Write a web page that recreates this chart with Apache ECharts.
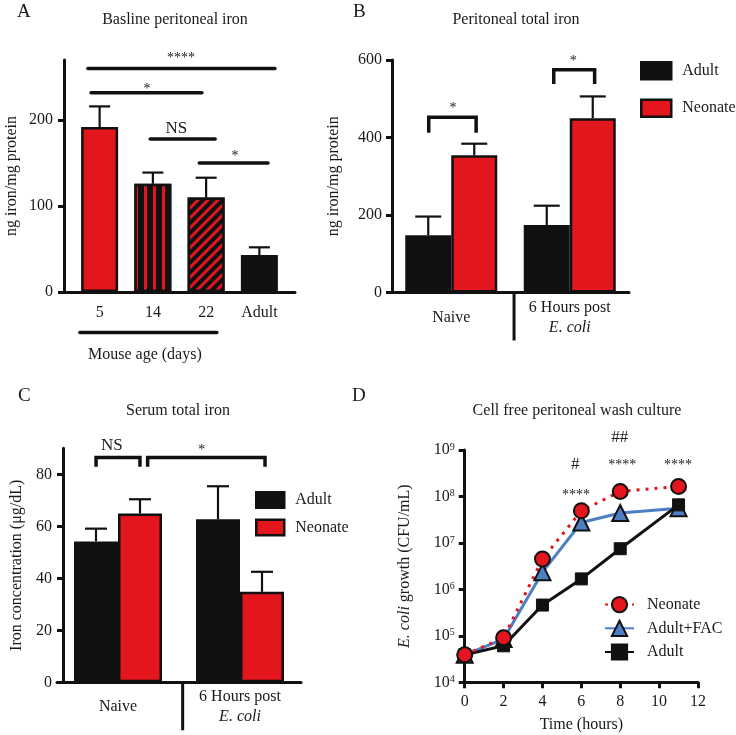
<!DOCTYPE html>
<html><head><meta charset="utf-8">
<script src="https://cdn.jsdelivr.net/npm/echarts@6/dist/echarts.min.js"></script>
<style>html,body{margin:0;padding:0;background:#fff}#c{width:736px;height:735px}</style>
</head><body><div id="c"></div><script>
// ---------------- DATA ----------------
// Panel A
const ageCategories = ['5', '14', '22', 'Adult'];
const baselineIron = [192, 126, 110, 43];
const baselineIronUpper = [216, 139, 133, 52];
// significance lines: [x1, x2, yLine, textX, textY] (category units), labels separate
const sigALines = [[-0.22, 3.29, 260, 1.53, 272], [-0.16, 1.92, 232, 0.89, 236], [0.95, 2.17, 178, 1.44, 190], [1.87, 3.16, 150, 2.54, 158]];
const sigALabels = ['****', '*', 'NS', '*'];
const ageGroupLine = [[-0.37, 2.2, -47, 0.85, -73]];
const ageGroupLabel = ['Mouse age (days)'];

// Panel B
const groupCategories = ['Naive', '6 Hours post E. coli'];
const periAdult = [148, 174];
const periAdultUpper = [196, 224];
const periNeonate = [354, 450];
const periNeonateUpper = [384, 506];
// brackets: [x1, x2, yTop, yLeg, textX, textY]
const sigBBrackets = [[-0.19, 0.21, 452, 412, 0.015, 474], [0.865, 1.21, 575, 538, 1.03, 596]];
const sigBLabels = ['*', '*'];

// Panel C
const serumAdult = [54.2, 62.7];
const serumAdultUpper = [59.1, 75.4];
const serumNeonate = [64.9, 34.8];
const serumNeonateUpper = [70.4, 42.5];
const sigCBrackets = [[-0.18, 0.18, 86.5, 82.9, -0.05, 90.9], [0.243, 1.205, 86.5, 82.9, 0.686, 89.3]];
const sigCLabels = ['NS', '*'];

// Panel D
const timeHours = [0, 2, 4, 6, 8, 11];
const growthNeonate = [3.9e4, 9.1e4, 4.5e6, 4.9e7, 1.28e8, 1.64e8];
const growthAdultFAC = [3.9e4, 8.5e4, 2.35e6, 2.75e7, 4.4e7, 5.6e7];
const growthAdult = [3.9e4, 6.1e4, 4.6e5, 1.68e6, 7.5e6, 6.6e7];
const sigDPoints = [[5.73, 1.04e8], [5.69, 4.75e8], [8.1, 4.6e8], [7.97, 1.84e9], [10.97, 4.6e8]];
const sigDLabels = ['****', '#', '****', '##', '****'];

// ---------------- STYLE ----------------
const FONT = "'Liberation Serif', 'DejaVu Serif', serif";
const RED = '#e3151d', BLK = '#111111', BLUE = '#4d7fc4', TXT = '#1a1a1a';
const AXW = 3;

function textStyle(size) { return { fontFamily: FONT, fontSize: size || 16, color: TXT, fontWeight: 'normal' }; }

const styleA = [
  { color: RED, borderColor: BLK, borderWidth: 2.5 },
  { color: BLK, borderColor: BLK, borderWidth: 2.5, decal: { symbol: 'rect', symbolSize: 1, color: RED, dashArrayX: [3, 5.7], dashArrayY: [1, 0] } },
  { color: BLK, borderColor: BLK, borderWidth: 2.5, decal: { symbol: 'rect', symbolSize: 1, color: RED, dashArrayX: [2.6, 3.8], dashArrayY: [1, 0], rotation: Math.PI / 4 } },
  { color: BLK, borderColor: BLK, borderWidth: 2.5 }
];

function errRender(offsetPx, capHalf) {
  return function (params, api) {
    const c = api.coord([api.value(0), api.value(1)]);
    const e = api.coord([api.value(0), api.value(2)]);
    const x = c[0] + offsetPx * (api.value(3) || 0);
    return { type: 'group', children: [
      { type: 'line', shape: { x1: x, y1: c[1], x2: x, y2: e[1] }, style: { stroke: BLK, lineWidth: 2.2 } },
      { type: 'line', shape: { x1: x - capHalf, y1: e[1], x2: x + capHalf, y2: e[1] }, style: { stroke: BLK, lineWidth: 2.2 } }
    ] };
  };
}
function sigLineRender(labels, size) {
  return function (params, api) {
    const p1 = api.coord([api.value(0), api.value(2)]);
    const p2 = api.coord([api.value(1), api.value(2)]);
    const t = api.coord([api.value(3), api.value(4)]);
    return { type: 'group', children: [
      { type: 'line', shape: { x1: p1[0], y1: p1[1], x2: p2[0], y2: p2[1] }, style: { stroke: BLK, lineWidth: 3.5, lineCap: 'round' } },
      { type: 'text', x: t[0], y: t[1], style: { text: labels[params.dataIndex], font: (labels[params.dataIndex].indexOf('*') >= 0 ? 14 : size) + 'px ' + FONT, fill: TXT, align: 'center', verticalAlign: 'middle' } }
    ] };
  };
}
function bracketRender(labels) {
  return function (params, api) {
    const a = api.coord([api.value(0), api.value(3)]);
    const b = api.coord([api.value(0), api.value(2)]);
    const c = api.coord([api.value(1), api.value(2)]);
    const d = api.coord([api.value(1), api.value(3)]);
    const t = api.coord([api.value(4), api.value(5)]);
    const lab = labels[params.dataIndex];
    return { type: 'group', children: [
      { type: 'polyline', shape: { points: [a, b, c, d] }, style: { stroke: BLK, fill: null, lineWidth: 3.5, lineJoin: 'miter' } },
      { type: 'text', x: t[0], y: t[1], style: { text: lab, font: (lab.indexOf('*') >= 0 ? 14 : 17) + 'px ' + FONT, fill: TXT, align: 'center', verticalAlign: 'middle' } }
    ] };
  };
}
function dividerRender(params, api) {
  const p = api.coord([api.value(0), 0]);
  return { type: 'line', shape: { x1: p[0], y1: p[1], x2: p[0], y2: p[1] + 48 }, style: { stroke: BLK, lineWidth: AXW } };
}
function textRender(labels) {
  return function (params, api) {
    const p = api.coord([api.value(0), api.value(1)]);
    const lab = labels[params.dataIndex];
    return { type: 'text', x: p[0], y: p[1], style: { text: lab, font: (lab.indexOf('*') >= 0 ? 14 : 17) + 'px ' + FONT, fill: TXT, align: 'center', verticalAlign: 'middle' } };
  };
}

const hidden = { show: false };
const axisLineStyle = { show: true, onZero: false, lineStyle: { color: BLK, width: AXW } };
const tickStyle = { show: true, length: 6, lineStyle: { color: BLK, width: AXW } };

const option = {
  animation: false,
  textStyle: { fontFamily: FONT },
  title: [
    { text: 'A', left: 17, top: 3, padding: 0, textStyle: textStyle(19) },
    { text: 'Basline peritoneal iron', left: 175, top: 12, padding: 0, textAlign: 'center', textStyle: textStyle(16) },
    { text: 'B', left: 353, top: 3, padding: 0, textStyle: textStyle(19) },
    { text: 'Peritoneal total iron', left: 516, top: 12, padding: 0, textAlign: 'center', textStyle: textStyle(16) },
    { text: 'C', left: 18, top: 387, padding: 0, textStyle: textStyle(19) },
    { text: 'Serum total iron', left: 178, top: 403, padding: 0, textAlign: 'center', textStyle: textStyle(16) },
    { text: 'D', left: 352, top: 387, padding: 0, textStyle: textStyle(19) },
    { text: 'Cell free peritoneal wash culture', left: 577, top: 403, padding: 0, textAlign: 'center', textStyle: textStyle(16) }
  ],
  legend: [
    { data: ['Adult', 'Neonate'], icon: 'rect', orient: 'vertical', left: 640, top: 61, itemWidth: 30, itemHeight: 17, itemGap: 18, padding: 0,
      textStyle: Object.assign(textStyle(16), { padding: [0, 0, 0, 6] }), itemStyle: { borderColor: BLK, borderWidth: 2.5 } },
    { data: ['C-Adult', 'C-Neonate'], icon: 'rect', orient: 'vertical', left: 255, top: 491, itemWidth: 28, itemHeight: 15.5, itemGap: 9.5, padding: 0,
      formatter: n => n.replace('C-', ''), textStyle: Object.assign(textStyle(16), { padding: [0, 0, 0, 6] }), itemStyle: { borderColor: BLK, borderWidth: 2.5 } },
    { data: ['D-Neonate', 'D-Adult+FAC', 'D-Adult'], orient: 'vertical', left: 604, top: 596, itemWidth: 29, itemHeight: 19, itemGap: 6.5, padding: 0,
      formatter: n => n.replace('D-', ''), textStyle: Object.assign(textStyle(16), { padding: [0, 0, 0, 8] }) }
  ],
  grid: [
    { left: 64, top: 60, width: 231, height: 232 },   // 0 A axes
    { left: 73, top: 60, width: 213, height: 232 },   // 1 A bars
    { left: 392, top: 60, width: 237, height: 232.5 },// 2 B
    { left: 57, top: 448.3, width: 244, height: 234 },// 3 C
    { left: 464.7, top: 450, width: 233.3, height: 232.3 } // 4 D
  ],
  xAxis: [
    { gridIndex: 0, type: 'value', min: -2 / 3, max: 11 / 3, axisLine: axisLineStyle, axisTick: hidden, axisLabel: hidden, splitLine: hidden },
    { gridIndex: 1, type: 'category', data: ageCategories, axisLine: hidden, axisTick: hidden, splitLine: hidden,
      axisLabel: Object.assign(textStyle(16), { margin: 13, interval: 0 }) },
    { gridIndex: 2, type: 'category', data: groupCategories, axisLine: axisLineStyle, axisTick: hidden, splitLine: hidden,
      axisLabel: Object.assign(textStyle(16), { margin: 25, interval: 0, verticalAlign: 'middle', lineHeight: 20,
        formatter: v => v.replace(' E. coli', '\n{i|E. coli}'), rich: { i: { fontStyle: 'italic', fontFamily: FONT, fontSize: 16, color: TXT, lineHeight: 20 } } }) },
    { gridIndex: 2, type: 'value', position: 'top', min: -0.5, max: 1.5, show: false },
    { gridIndex: 3, type: 'category', data: groupCategories, axisLine: axisLineStyle, axisTick: hidden, splitLine: hidden,
      axisLabel: Object.assign(textStyle(16), { margin: 24, interval: 0, verticalAlign: 'middle', lineHeight: 20,
        formatter: v => v.replace(' E. coli', '\n{i|E. coli}'), rich: { i: { fontStyle: 'italic', fontFamily: FONT, fontSize: 16, color: TXT, lineHeight: 20 } } }) },
    { gridIndex: 3, type: 'value', position: 'top', min: -0.5, max: 1.5, show: false },
    { gridIndex: 4, type: 'value', min: 0, max: 12, interval: 2, axisLine: axisLineStyle, axisTick: tickStyle, splitLine: hidden,
      axisLabel: Object.assign(textStyle(16), { margin: 11 }),
      name: 'Time (hours)', nameLocation: 'middle', nameGap: 34, nameTextStyle: textStyle(16) }
  ],
  yAxis: [
    { gridIndex: 0, type: 'value', min: 0, max: 270, axisLine: axisLineStyle, splitLine: hidden,
      axisTick: Object.assign({ customValues: [0, 100, 200] }, tickStyle),
      axisLabel: Object.assign(textStyle(16), { margin: 11, customValues: [0, 100, 200] }),
      name: 'ng iron/mg protein', nameLocation: 'middle', nameGap: 44, nameTextStyle: textStyle(16) },
    { gridIndex: 1, type: 'value', min: 0, max: 270, show: false },
    { gridIndex: 2, type: 'value', min: 0, max: 600, interval: 200, axisLine: axisLineStyle, splitLine: hidden, axisTick: tickStyle,
      axisLabel: Object.assign(textStyle(16), { margin: 10 }),
      name: 'ng iron/mg protein', nameLocation: 'middle', nameGap: 50, nameTextStyle: textStyle(16) },
    { gridIndex: 3, type: 'value', min: 0, max: 90, offset: -6, axisLine: axisLineStyle, splitLine: hidden,
      axisTick: Object.assign({ customValues: [0, 20, 40, 60, 80] }, tickStyle),
      axisLabel: Object.assign(textStyle(16), { margin: 11, customValues: [0, 20, 40, 60, 80] }),
      name: 'Iron concentration (μg/dL)', nameLocation: 'middle', nameGap: 38, nameTextStyle: textStyle(16) },
    { gridIndex: 4, type: 'log', logBase: 10, min: 1e4, max: 1e9, axisLine: axisLineStyle, splitLine: hidden, axisTick: tickStyle, minorTick: hidden,
      axisLabel: Object.assign(textStyle(16), { margin: 10,
        formatter: v => '{b|10}{s|' + Math.round(Math.log10(v)) + '}',
        rich: { b: { fontFamily: FONT, fontSize: 16, color: TXT, lineHeight: 16, verticalAlign: 'bottom' },
                s: { fontFamily: FONT, fontSize: 10, color: TXT, lineHeight: 10, verticalAlign: 'top', padding: [0, 0, 3, 0] } } }),
      name: '{i|E. coli} growth (CFU/mL)', nameLocation: 'middle', nameGap: 52,
      nameTextStyle: Object.assign(textStyle(16), { rich: { i: { fontStyle: 'italic', fontFamily: FONT, fontSize: 16, color: TXT } } }) }
  ],
  series: [
    // ---- A
    { type: 'bar', name: 'A', xAxisIndex: 1, yAxisIndex: 1, barWidth: 37,
      data: baselineIron.map((v, i) => ({ value: v, itemStyle: styleA[i] })) },
    { type: 'custom', name: 'A-err', xAxisIndex: 1, yAxisIndex: 1, renderItem: errRender(0, 10.5), z: 3,
      data: baselineIron.map((v, i) => [i, v, baselineIronUpper[i], 0]) },
    { type: 'custom', name: 'A-sig', xAxisIndex: 0, yAxisIndex: 0, renderItem: sigLineRender(sigALabels, 17), data: sigALines },
    { type: 'custom', name: 'A-age', xAxisIndex: 0, yAxisIndex: 0, renderItem: sigLineRender(ageGroupLabel, 16), data: ageGroupLine },
    // ---- B
    { type: 'bar', name: 'Adult', xAxisIndex: 2, yAxisIndex: 2, barWidth: 46, barGap: '0%', data: periAdult,
      itemStyle: { color: BLK, borderColor: BLK, borderWidth: 2.5 } },
    { type: 'bar', name: 'Neonate', xAxisIndex: 2, yAxisIndex: 2, barWidth: 46, barGap: '0%', data: periNeonate,
      itemStyle: { color: RED, borderColor: BLK, borderWidth: 2.5 } },
    { type: 'custom', name: 'B-err', xAxisIndex: 2, yAxisIndex: 2, renderItem: errRender(23, 13), z: 3,
      data: periAdult.map((v, i) => [i, v, periAdultUpper[i], -1]).concat(periNeonate.map((v, i) => [i, v, periNeonateUpper[i], 1])) },
    { type: 'custom', name: 'B-sig', xAxisIndex: 3, yAxisIndex: 2, renderItem: bracketRender(sigBLabels), data: sigBBrackets },
    { type: 'custom', name: 'B-div', xAxisIndex: 3, yAxisIndex: 2, renderItem: dividerRender, data: [[0.53]] },
    // ---- C
    { type: 'bar', name: 'C-Adult', xAxisIndex: 4, yAxisIndex: 3, barWidth: 44, barGap: '0%', data: serumAdult,
      itemStyle: { color: BLK, borderColor: BLK, borderWidth: 2.5 } },
    { type: 'bar', name: 'C-Neonate', xAxisIndex: 4, yAxisIndex: 3, barWidth: 44, barGap: '0%', data: serumNeonate,
      itemStyle: { color: RED, borderColor: BLK, borderWidth: 2.5 } },
    { type: 'custom', name: 'C-err', xAxisIndex: 4, yAxisIndex: 3, renderItem: errRender(22, 11), z: 3,
      data: serumAdult.map((v, i) => [i, v, serumAdultUpper[i], -1]).concat(serumNeonate.map((v, i) => [i, v, serumNeonateUpper[i], 1])) },
    { type: 'custom', name: 'C-sig', xAxisIndex: 5, yAxisIndex: 3, renderItem: bracketRender(sigCLabels), data: sigCBrackets },
    { type: 'custom', name: 'C-div', xAxisIndex: 5, yAxisIndex: 3, renderItem: dividerRender, data: [[0.53]] },
    // ---- D
    { type: 'line', name: 'D-Adult+FAC', xAxisIndex: 6, yAxisIndex: 4, data: timeHours.map((t, i) => [t, growthAdultFAC[i]]),
      symbol: 'triangle', symbolSize: 16, lineStyle: { color: BLUE, width: 3 }, itemStyle: { color: BLUE, borderColor: BLK, borderWidth: 2 } },
    { type: 'line', name: 'D-Adult', xAxisIndex: 6, yAxisIndex: 4, data: timeHours.map((t, i) => [t, growthAdult[i]]),
      symbol: 'rect', symbolSize: 12, lineStyle: { color: BLK, width: 3 }, itemStyle: { color: BLK, borderColor: BLK, borderWidth: 1 } },
    { type: 'line', name: 'D-Neonate', xAxisIndex: 6, yAxisIndex: 4, data: timeHours.map((t, i) => [t, growthNeonate[i]]),
      symbol: 'circle', symbolSize: 15, lineStyle: { color: RED, width: 3, type: [3, 6] }, itemStyle: { color: RED, borderColor: BLK, borderWidth: 2 } },
    { type: 'custom', name: 'D-sig', xAxisIndex: 6, yAxisIndex: 4, renderItem: textRender(sigDLabels), data: sigDPoints, clip: false }
  ]
};
const chart = echarts.init(document.getElementById('c'));
chart.setOption(option);
</script></body></html>
